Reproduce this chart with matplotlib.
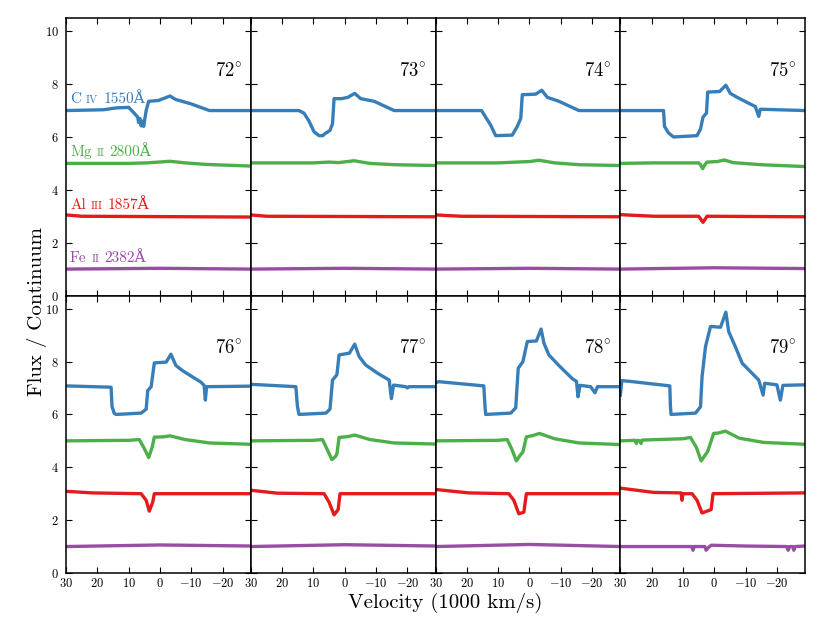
import numpy as np
import matplotlib
matplotlib.use('Agg')
from matplotlib import pyplot as plt

plt.rcParams['font.family'] = ['cmr10', 'DejaVu Serif']
plt.rcParams['mathtext.fontset'] = 'cm'
plt.rcParams['axes.formatter.use_mathtext'] = True
plt.rcParams['axes.unicode_minus'] = True

# viewing angles, one panel each
angles = [72, 73, 74, 75, 76, 77, 78, 79]

# normalised flux (flux / continuum), (velocity in 1000 km/s, flux)
civ_72 = [(30, 1.0), (18, 1.03), (14, 1.1), (10, 1.12), (8.2, 0.9), (7.1, 0.75), (6.8, 0.55), (6.4, 0.7),
          (6.0, 0.42), (5.6, 0.6), (5.2, 0.4), (4.8, 0.7), (4.4, 1.0), (3.6, 1.35), (0.5, 1.38), (-3.2, 1.55),
          (-5, 1.42), (-10, 1.25), (-15.8, 1.0), (-29, 1.0)]
civ_73 = [(30, 1.0), (14.6, 1.0), (13, 0.9), (11.4, 0.6), (9.8, 0.2), (8.2, 0.05), (7, 0.05), (6.6, 0.1),
          (4.7, 0.25), (3.9, 0.5), (3.4, 1.45), (1, 1.45), (-1, 1.5), (-3.2, 1.65), (-5.1, 1.45), (-9.4, 1.35),
          (-15.8, 1.0), (-29, 1.0)]
civ_74 = [(30, 1.0), (15.3, 1.0), (14, 0.75), (12.4, 0.45), (10.8, 0.05), (5.5, 0.07), (3.9, 0.4), (2.8, 0.7),
          (2.3, 1.6), (-2, 1.62), (-3.9, 1.77), (-5.7, 1.5), (-9.4, 1.35), (-15.8, 1.0), (-29, 1.0)]
civ_75 = [(30, 1.0), (16.2, 1.0), (15.9, 0.4), (14.6, 0.15), (13, 0.0), (5.5, 0.05), (4.4, 0.3), (3.6, 0.75),
          (2.5, 0.9), (2.1, 1.7), (-1.7, 1.72), (-3.7, 1.96), (-5.1, 1.65), (-7.3, 1.5), (-13.1, 1.15),
          (-14.2, 0.78), (-14.7, 1.05), (-29, 1.0)]
civ_76 = [(30, 1.08), (15.6, 1.03), (15.3, 0.3), (14.6, 0.04), (14, 0.0), (6, 0.05), (4.4, 0.2), (3.9, 0.9),
          (2.8, 1.05), (1.8, 1.95), (-2, 1.98), (-3.5, 2.28), (-5.1, 1.85), (-7.3, 1.65), (-13.1, 1.22),
          (-14.1, 1.1), (-14.5, 0.54), (-14.9, 1.05), (-29, 1.07)]
civ_77 = [(30, 1.14), (15.6, 1.05), (15.1, 0.3), (14.6, 0.0), (6, 0.05), (4.7, 0.2), (3.9, 1.3), (2.5, 1.5),
          (1.8, 2.25), (-1.5, 2.32), (-3.2, 2.66), (-4.6, 2.19), (-6.7, 1.87), (-10.5, 1.56), (-14.2, 1.3),
          (-14.9, 0.6), (-15.6, 1.11), (-19.5, 1.05), (-20, 1.0), (-20.5, 1.05), (-29, 1.05)]
civ_78 = [(30, 1.2), (29, 1.24), (14.6, 1.08), (14.2, 0.3), (14, 0.0), (6, 0.05), (4.4, 0.25), (3.6, 1.75),
          (2.1, 2.0), (0.7, 2.76), (-2.2, 2.78), (-3.7, 3.23), (-4.6, 2.7), (-6.2, 2.25), (-9.4, 1.85),
          (-13.7, 1.35), (-15, 1.25), (-15.5, 0.67), (-16.1, 1.1), (-19.5, 1.05), (-20.9, 0.82),
          (-21.7, 1.05), (-29, 1.05)]
civ_79 = [(30, 0.73), (29.5, 1.28), (26.8, 1.25), (14.2, 1.08), (14, 0.3), (13.8, 0.0), (6, 0.05), (4.4, 0.29),
          (3.9, 1.43), (2.8, 2.57), (1.2, 3.33), (-2, 3.3), (-3.7, 3.87), (-4.6, 3.14), (-6.7, 2.57),
          (-8.9, 1.94), (-14.2, 1.3), (-15.6, 0.73), (-16.1, 1.18), (-20, 1.12), (-21.1, 0.54), (-21.9, 1.1),
          (-29, 1.12)]

mgii_72 = [(30, 1.0), (10, 1.0), (4, 1.02), (-3.2, 1.08), (-8, 1.02), (-15, 0.96), (-29, 0.9)]
mgii_73 = [(30, 1.02), (10, 1.02), (5, 1.05), (2, 1.03), (-3, 1.1), (-8, 1.0), (-16, 0.95), (-29, 0.92)]
mgii_74 = [(30, 1.02), (10, 1.02), (4, 1.05), (0, 1.07), (-3, 1.12), (-8, 1.02), (-16, 0.95), (-29, 0.92)]
mgii_75 = [(30, 1.0), (19, 1.02), (5, 1.02), (4.4, 0.95), (3.7, 0.8), (3, 0.95), (2.3, 1.05), (-1, 1.07),
           (-3.2, 1.13), (-6, 1.03), (-15, 0.95), (-29, 0.88)]
mgii_76 = [(30, 1.0), (10, 1.02), (6.6, 1.05), (5, 0.71), (3.6, 0.37), (2.5, 0.75), (1.8, 1.14), (-1, 1.15),
           (-3.2, 1.19), (-8, 1.05), (-15.8, 0.92), (-29, 0.87)]
mgii_77 = [(30, 1.0), (10, 1.02), (7.1, 1.05), (5.5, 0.65), (4.1, 0.29), (3, 0.4), (2.5, 0.5), (1.8, 1.13),
           (-1, 1.16), (-3.2, 1.22), (-8, 1.05), (-15.8, 0.92), (-29, 0.88)]
mgii_78 = [(30, 1.0), (10, 1.02), (7.1, 1.05), (5.7, 0.7), (4.2, 0.24), (3, 0.45), (2.1, 0.58), (1, 1.15),
           (-1, 1.2), (-3.2, 1.28), (-8, 1.08), (-15.8, 0.92), (-29, 0.86)]
mgii_79 = [(30, 1.0), (25.3, 1.02), (24.9, 0.9), (24.5, 1.02), (23.8, 1.0), (23.4, 0.9), (23, 1.03), (10, 1.08),
           (7.6, 1.13), (5.7, 0.75), (4.2, 0.24), (2.1, 0.6), (0.2, 1.28), (-1.5, 1.3), (-3.5, 1.37), (-8, 1.1),
           (-15.8, 0.94), (-29, 0.87)]

aliii_72 = [(30, 1.05), (25, 1.0), (-29, 0.97)]
aliii_73 = [(30, 1.05), (25, 1.0), (-29, 0.98)]
aliii_74 = [(30, 1.05), (22, 1.0), (-29, 0.98)]
aliii_75 = [(30, 1.06), (19.4, 1.0), (5, 1.0), (3.6, 0.77), (2.3, 1.0), (-29, 0.98)]
aliii_76 = [(30, 1.09), (21.5, 1.03), (6, 1.0), (4.4, 0.75), (3.4, 0.34), (2.3, 0.68), (1.8, 1.0), (-29, 1.0)]
aliii_77 = [(30, 1.13), (21.5, 1.02), (6.6, 1.0), (5, 0.68), (3.4, 0.2), (2.1, 0.4), (1.5, 1.0), (-29, 1.0)]
aliii_78 = [(30, 1.16), (19.4, 1.03), (6.6, 1.0), (5, 0.75), (3.4, 0.24), (1.8, 0.3), (1, 1.0), (-29, 1.0)]
aliii_79 = [(30, 1.21), (19.4, 1.05), (10.6, 1.03), (10.3, 0.75), (10, 1.0), (7.1, 1.0), (5.5, 0.75),
            (3.9, 0.27), (1, 0.4), (0.4, 1.0), (-29, 1.03)]

feii_72 = [(30, 1.0), (0, 1.03), (-29, 1.0)]
feii_73 = [(30, 1.0), (0, 1.03), (-29, 1.0)]
feii_74 = [(30, 1.0), (0, 1.03), (-29, 1.0)]
feii_75 = [(30, 1.0), (0, 1.05), (-29, 1.02)]
feii_76 = [(30, 1.0), (0, 1.06), (-29, 1.02)]
feii_77 = [(30, 1.0), (0, 1.07), (-29, 1.02)]
feii_78 = [(30, 1.0), (0, 1.08), (-29, 1.0)]
feii_79 = [(30, 1.0), (7.2, 1.0), (6.8, 0.86), (6.4, 1.0), (3, 1.0), (2.6, 0.86), (2.0, 0.95), (1, 1.05),
           (-10, 1.02), (-23.2, 1.0), (-23.6, 0.86), (-24, 1.0), (-25, 1.0), (-25.4, 0.86), (-25.8, 1.0),
           (-29, 1.02)]

civ = [civ_72, civ_73, civ_74, civ_75, civ_76, civ_77, civ_78, civ_79]
mgii = [mgii_72, mgii_73, mgii_74, mgii_75, mgii_76, mgii_77, mgii_78, mgii_79]
aliii = [aliii_72, aliii_73, aliii_74, aliii_75, aliii_76, aliii_77, aliii_78, aliii_79]
feii = [feii_72, feii_73, feii_74, feii_75, feii_76, feii_77, feii_78, feii_79]

# (element, ionisation, wavelength), vertical offset, colour
lines = [
    (civ, ('C', 'IV', '1550Å'), 6, '#377eb8'),
    (mgii, ('Mg', 'II', '2800Å'), 4, '#4daf4a'),
    (aliii, ('Al', 'III', '1857Å'), 2, '#e41a1c'),
    (feii, ('Fe', 'II', '2382Å'), 0, '#984ea3'),
]

fig, axes = plt.subplots(2, 4, sharex=True, sharey=True, figsize=(8.3, 6.23), dpi=100)
fig.subplots_adjust(left=0.0795, right=0.970, top=0.971, bottom=0.0803, wspace=0, hspace=0)

for i, ax in enumerate(axes.flat):
    for data, name, off, col in lines:
        pts = np.array(data[i])
        ax.plot(pts[:, 0], pts[:, 1] + off, color=col, lw=2.4, solid_joinstyle='round')
    ax.text(0.95, 8.5 / 10.5, r'$%d\!^\circ$' % angles[i], transform=ax.transAxes,
            ha='right', va='center', fontsize=13.5)
    ax.tick_params(direction='in', top=True, right=True, length=4, width=0.8, labelsize=9)
    ax.tick_params(axis='y', pad=5)
    ax.tick_params(axis='x', pad=3)
    for s in ax.spines.values():
        s.set_linewidth(1.1)

ax = axes[0, 0]
ax.set_xlim(30, -29)
ax.set_ylim(0, 10.5)
ax.set_xticks([30, 20, 10, 0, -10, -20])
ax.set_yticks([0, 2, 4, 6, 8, 10])

# species labels in the first panel, ionisation stage in small capitals
r = fig.canvas.get_renderer()
for data, name, off, col in lines:
    el, ion, wl = name
    t1 = ax.text(28.7, off + 1.27, el, color=col, fontsize=11, va='baseline')
    w1 = t1.get_window_extent(r).width * 72 / fig.dpi
    t2 = ax.annotate(ion, xy=(28.7, off + 1.27), xytext=(w1 + 3.5, 0), textcoords='offset points',
                     color=col, fontsize=8, va='baseline')
    w2 = t2.get_window_extent(r).width * 72 / fig.dpi
    ax.annotate(wl, xy=(28.7, off + 1.27), xytext=(w1 + w2 + 7, 0), textcoords='offset points',
                color=col, fontsize=11, va='baseline')

fig.text(0.044, 0.5, 'Flux / Continuum', rotation=90, ha='center', va='center', fontsize=15)
fig.text(0.536, 0.032, 'Velocity (1000 km/s)', ha='center', va='center', fontsize=15)

plt.savefig('out.png', dpi=100)
